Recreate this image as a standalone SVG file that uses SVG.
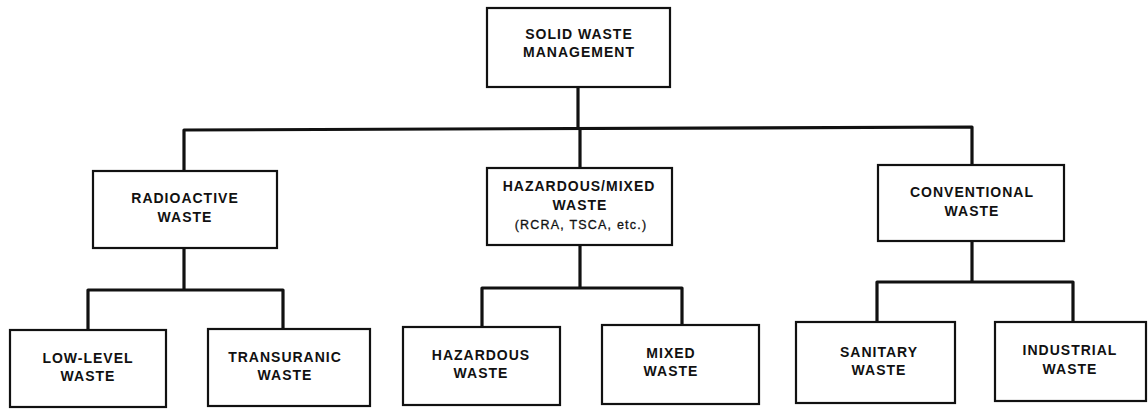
<svg xmlns="http://www.w3.org/2000/svg" width="1148" height="409" viewBox="0 0 1148 409">
  <style>
    .box { fill: #ffffff; stroke: #111; stroke-width: 2.2; }
    .wire { fill: none; stroke: #111; stroke-width: 3.2; stroke-linejoin: round; }
    .lbl { font-family: "Liberation Sans", Arial, sans-serif; font-weight: bold; font-size: 14px; letter-spacing: 1px; fill: #111; text-anchor: middle; }
    .sub { font-family: "Liberation Sans", Arial, sans-serif; font-weight: normal; font-size: 12.5px; letter-spacing: 1.2px; fill: #111; stroke: #111; stroke-width: 0.3; text-anchor: middle; }
  </style>
  <rect width="1148" height="409" fill="#ffffff"/>

  <!-- connectors -->
  <g id="connectors">
    <!-- root to first tier -->
    <path class="wire" d="M578,87 V129"/>
    <path class="wire" d="M184,171 V130 L972,127 V165"/>
    <path class="wire" d="M580,128 V168"/>
    <!-- radioactive branch -->
    <path class="wire" d="M184,248 V290"/>
    <path class="wire" d="M88,330 V290 H283 V329"/>
    <!-- hazardous/mixed branch -->
    <path class="wire" d="M580,245 V288"/>
    <path class="wire" d="M482,327 V288 H682 V325"/>
    <!-- conventional branch -->
    <path class="wire" d="M972,241 V282"/>
    <path class="wire" d="M877,322 V282 H1073 V322"/>
  </g>

  <g id="solid-waste-management">
    <rect class="box" x="487" y="8" width="183" height="79"/>
    <text class="lbl" x="579" y="39">SOLID WASTE</text>
    <text class="lbl" x="579" y="57">MANAGEMENT</text>
  </g>

  <g id="radioactive-waste">
    <rect class="box" x="93" y="171" width="184" height="77"/>
    <text class="lbl" x="185" y="203">RADIOACTIVE</text>
    <text class="lbl" x="185" y="222">WASTE</text>
  </g>

  <g id="hazardous-mixed-waste">
    <rect class="box" x="487" y="168" width="185" height="77"/>
    <text class="lbl" x="579" y="191">HAZARDOUS/MIXED</text>
    <text class="lbl" x="580" y="210">WASTE</text>
    <text class="sub" x="581" y="229">(RCRA, TSCA, etc.)</text>
  </g>

  <g id="conventional-waste">
    <rect class="box" x="878" y="165" width="186" height="76"/>
    <text class="lbl" x="972" y="197">CONVENTIONAL</text>
    <text class="lbl" x="972" y="216">WASTE</text>
  </g>

  <g id="low-level-waste">
    <rect class="box" x="10" y="330" width="156" height="77"/>
    <text class="lbl" x="88" y="363">LOW-LEVEL</text>
    <text class="lbl" x="88" y="381">WASTE</text>
  </g>

  <g id="transuranic-waste">
    <rect class="box" x="208" y="329" width="162" height="77"/>
    <text class="lbl" x="285" y="362">TRANSURANIC</text>
    <text class="lbl" x="285" y="380">WASTE</text>
  </g>

  <g id="hazardous-waste">
    <rect class="box" x="403" y="327" width="157" height="78"/>
    <text class="lbl" x="481" y="360">HAZARDOUS</text>
    <text class="lbl" x="481" y="378">WASTE</text>
  </g>

  <g id="mixed-waste">
    <rect class="box" x="602" y="325" width="157" height="79"/>
    <text class="lbl" x="671" y="358">MIXED</text>
    <text class="lbl" x="671" y="376">WASTE</text>
  </g>

  <g id="sanitary-waste">
    <rect class="box" x="796" y="322" width="159" height="81"/>
    <text class="lbl" x="879" y="357">SANITARY</text>
    <text class="lbl" x="879" y="375">WASTE</text>
  </g>

  <g id="industrial-waste">
    <rect class="box" x="995" y="322" width="151" height="79"/>
    <text class="lbl" x="1070" y="355">INDUSTRIAL</text>
    <text class="lbl" x="1070" y="374">WASTE</text>
  </g>
</svg>
